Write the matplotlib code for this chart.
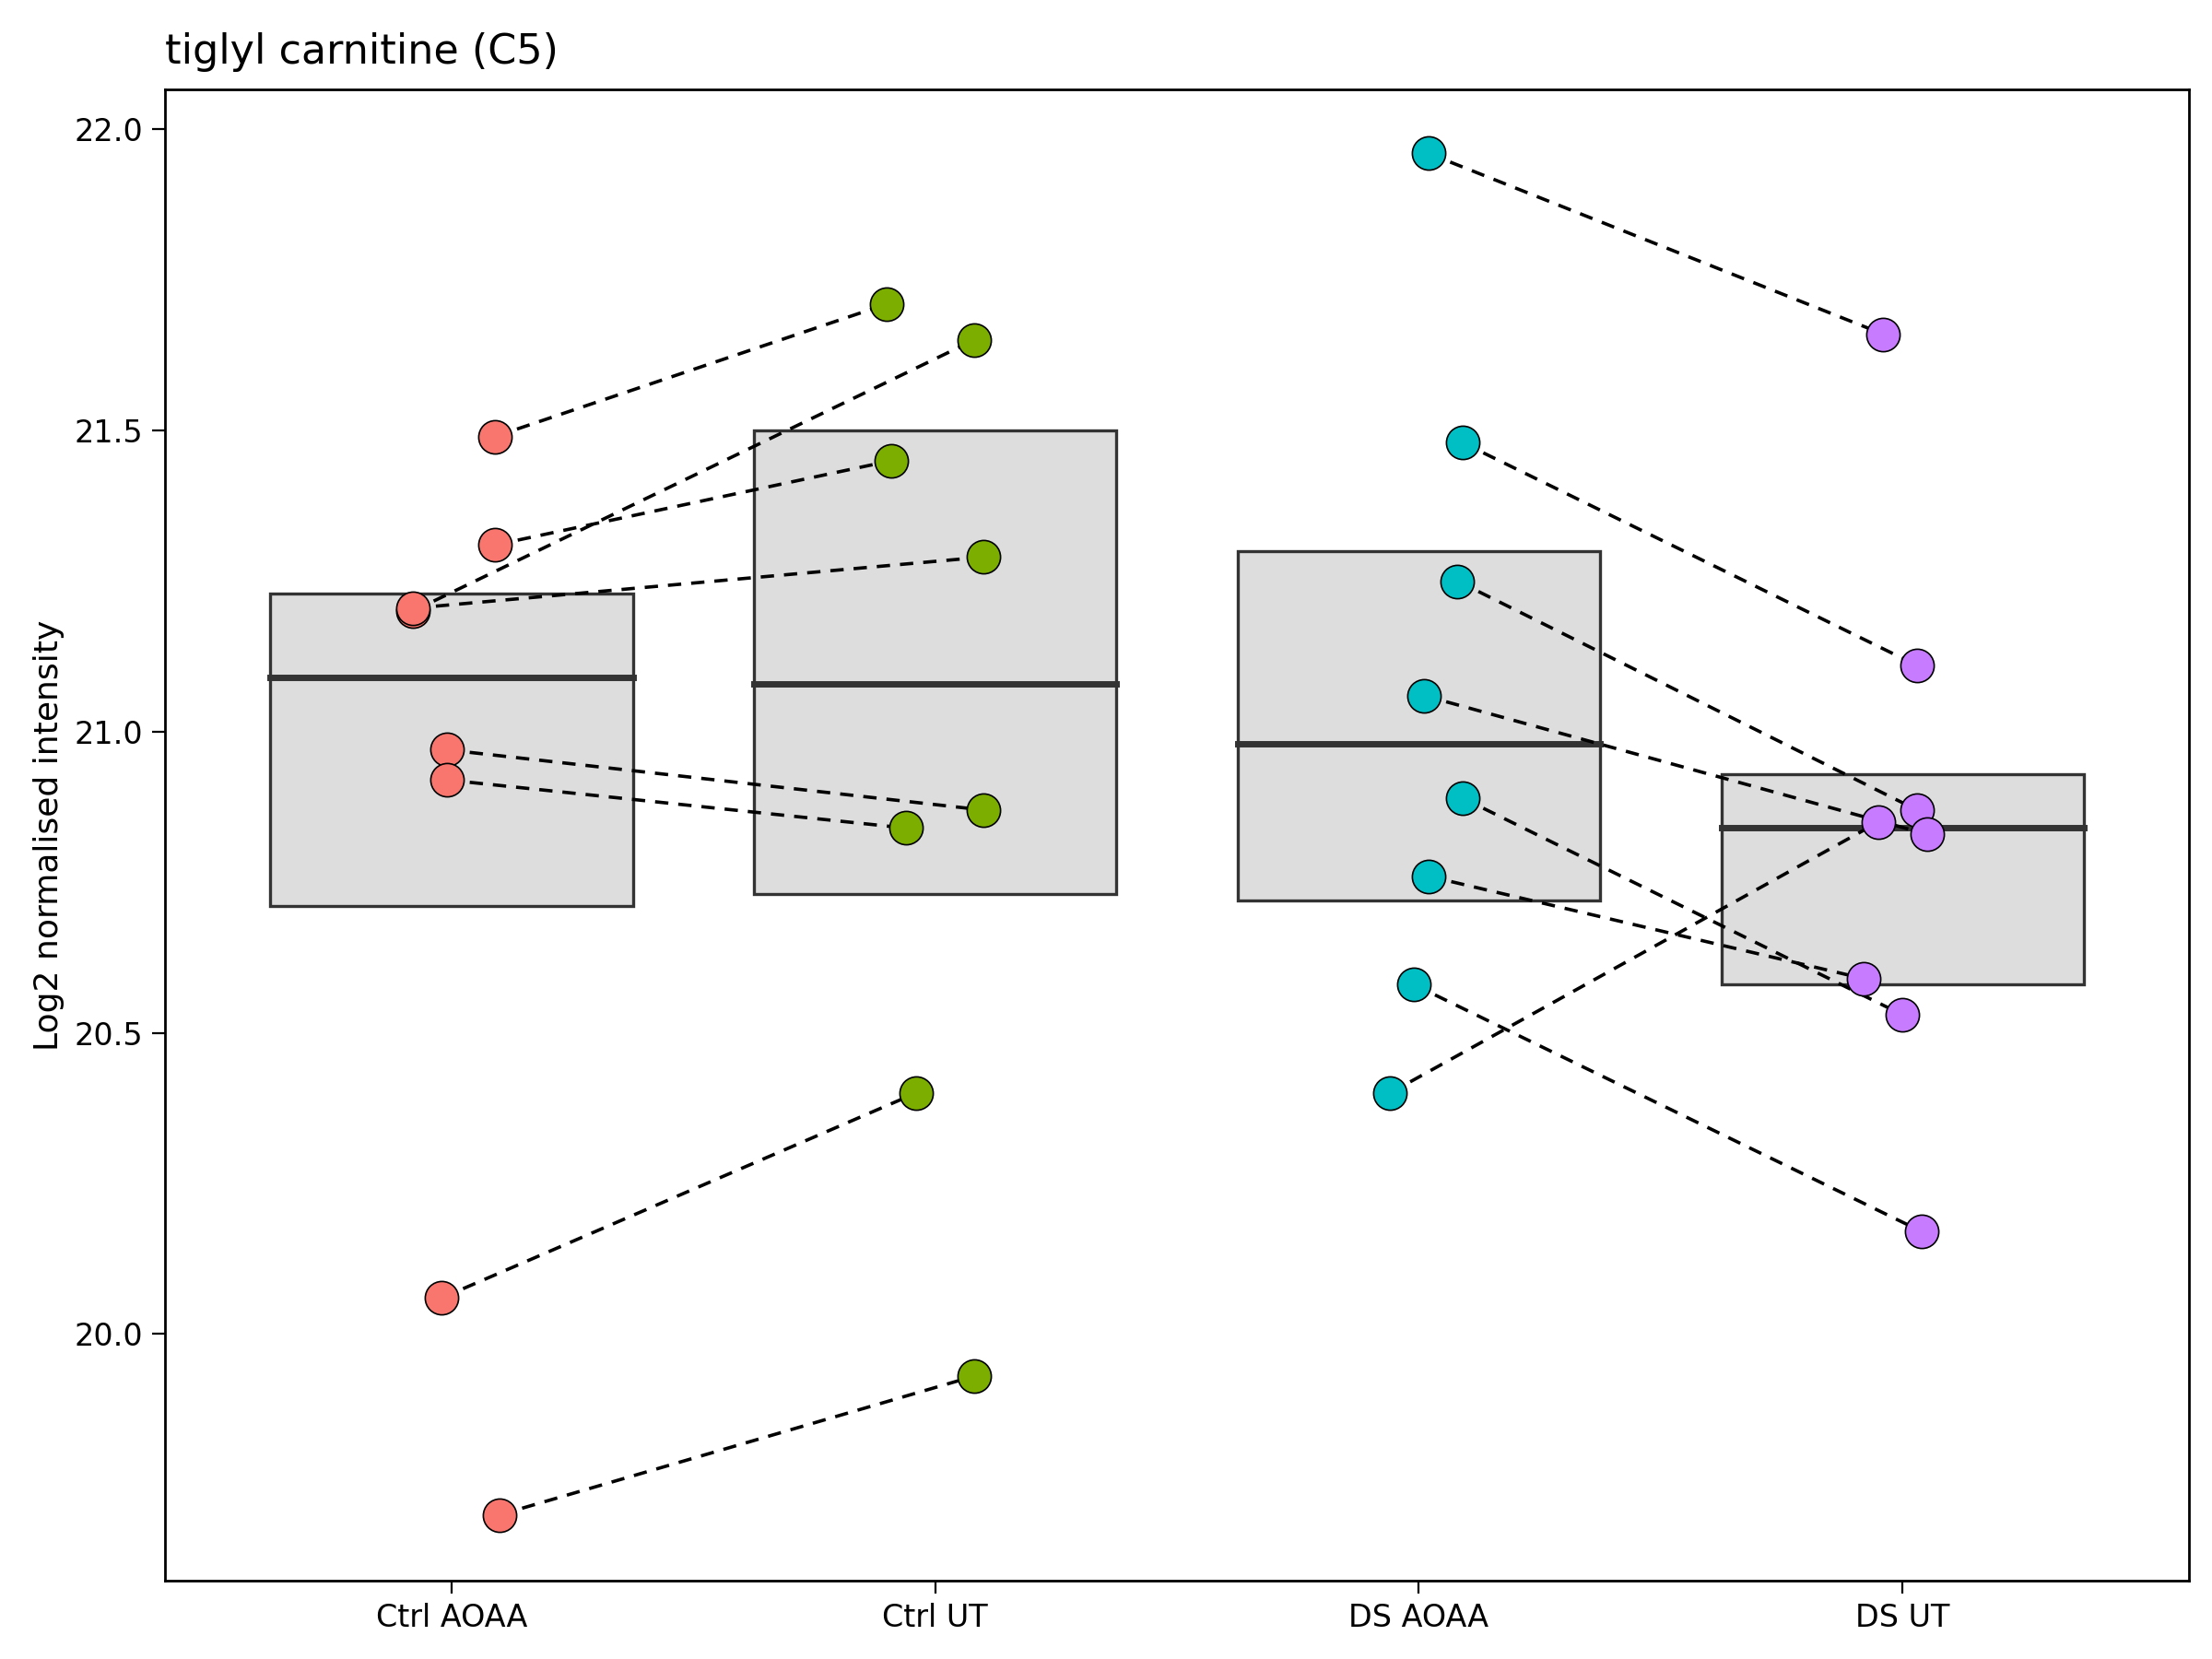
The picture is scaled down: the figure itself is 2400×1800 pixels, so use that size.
import matplotlib
matplotlib.use("Agg")
import matplotlib.pyplot as plt

groups = ["Ctrl AOAA", "Ctrl UT", "DS AOAA", "DS UT"]
colors = ["#F8766D", "#7CAE00", "#00BFC4", "#C77CFF"]

# summary crossbars (low, mid, high)
box_low = [20.71, 20.73, 20.72, 20.58]
box_mid = [21.09, 21.08, 20.98, 20.84]
box_high = [21.23, 21.50, 21.30, 20.93]

# paired samples: value and jitter for treated (AOAA) and untreated (UT)
ctrl_aoaa = [21.49, 21.31, 21.20, 21.205, 20.97, 20.92, 20.06, 19.70]
ctrl_aoaa_jit = [0.09, 0.09, -0.08, -0.08, -0.01, -0.01, -0.02, 0.10]
ctrl_ut = [21.71, 21.45, 21.65, 21.29, 20.87, 20.84, 20.40, 19.93]
ctrl_ut_jit = [-0.10, -0.09, 0.08, 0.10, 0.10, -0.06, -0.04, 0.08]

ds_aoaa = [21.96, 21.48, 21.25, 21.06, 20.89, 20.76, 20.58, 20.40]
ds_aoaa_jit = [0.02, 0.09, 0.08, 0.01, 0.09, 0.02, -0.01, -0.06]
ds_ut = [21.66, 21.11, 20.87, 20.83, 20.53, 20.59, 20.17, 20.85]
ds_ut_jit = [-0.04, 0.03, 0.03, 0.05, 0.00, -0.08, 0.04, -0.05]

fig = plt.figure(figsize=(12, 9), dpi=200)
ax = fig.add_axes([0.0746, 0.047, 0.915, 0.899])

for i in range(4):
    ax.add_patch(plt.Rectangle((i - 0.375, box_low[i]), 0.75, box_high[i] - box_low[i],
                               facecolor="#DDDDDD", edgecolor="#333333", lw=1.2, zorder=1))
    ax.plot([i - 0.375, i + 0.375], [box_mid[i], box_mid[i]], color="#333333", lw=2.5, zorder=2)

pairs = [(0, ctrl_aoaa, ctrl_aoaa_jit, 1, ctrl_ut, ctrl_ut_jit),
         (2, ds_aoaa, ds_aoaa_jit, 3, ds_ut, ds_ut_jit)]
for ga, va, ja, gu, vu, ju in pairs:
    for k in range(len(va)):
        ax.plot([ga + ja[k], gu + ju[k]], [va[k], vu[k]], ls="--", color="black", lw=1.3,
                dashes=(4, 3), zorder=3)
    ax.scatter([ga + j for j in ja], va, s=170, color=colors[ga], edgecolor="black", lw=0.6, zorder=4)
    ax.scatter([gu + j for j in ju], vu, s=170, color=colors[gu], edgecolor="black", lw=0.6, zorder=4)

ax.set_xlim(-0.592, 3.592)
ax.set_ylim(19.59, 22.066)
ax.set_xticks(range(4))
ax.set_xticklabels(groups)
ax.set_yticks([20.0, 20.5, 21.0, 21.5, 22.0])
ax.set_yticklabels(["20.0", "20.5", "21.0", "21.5", "22.0"])
ax.tick_params(labelsize=12, colors="black", length=5)
ax.set_ylabel("Log2 normalised intensity", fontsize=13)
ax.set_title("tiglyl carnitine (C5)", fontsize=16, loc="left", pad=10)
for s in ax.spines.values():
    s.set_linewidth(1.0)

fig.savefig("out.png", dpi=200)
